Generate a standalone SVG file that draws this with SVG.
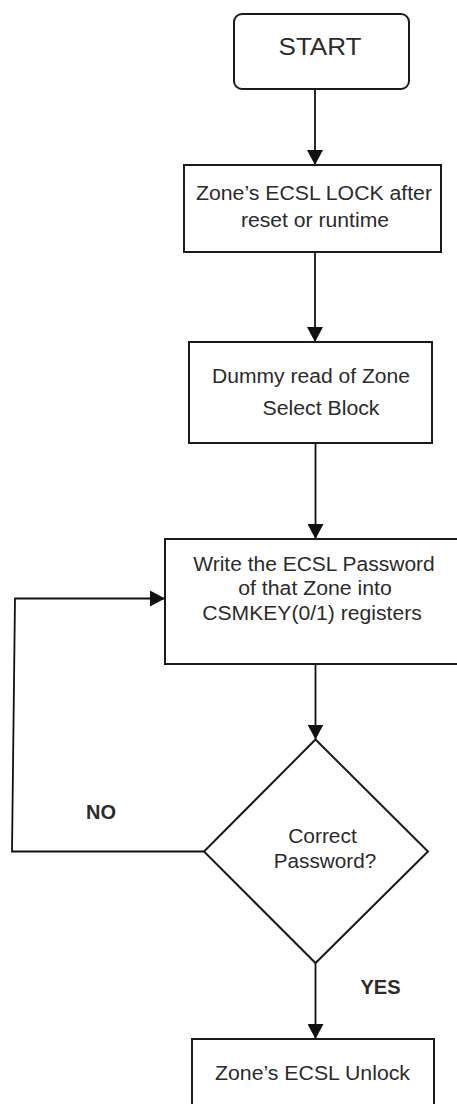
<svg xmlns="http://www.w3.org/2000/svg" width="457" height="1104" viewBox="0 0 457 1104">
<style>
.box{fill:#fff;stroke:#1a1a1a;stroke-width:2}
.t{font-family:"Liberation Sans",Arial,sans-serif;font-size:20px;fill:#2b2b2b;text-anchor:middle}
.b{font-family:"Liberation Sans",Arial,sans-serif;font-size:20px;font-weight:bold;fill:#2b2b2b;text-anchor:middle}
.c{fill:none;stroke:#111;stroke-width:1.8}
</style>
<defs>
<marker id="ah" markerUnits="userSpaceOnUse" markerWidth="16" markerHeight="16" viewBox="0 0 16 16" refX="15" refY="8" orient="auto">
<path d="M0,0 L15,8 L0,16 z" fill="#111"/>
</marker>
</defs>
<rect width="457" height="1104" fill="#fff"/>
<g id="connectors">
<line class="c" x1="315" y1="89" x2="315" y2="165" marker-end="url(#ah)"/>
<line class="c" x1="315" y1="252" x2="315" y2="342" marker-end="url(#ah)"/>
<line class="c" x1="315.5" y1="443" x2="315.5" y2="539" marker-end="url(#ah)"/>
<line class="c" x1="315.5" y1="664" x2="315.5" y2="739.5" marker-end="url(#ah)"/>
<line class="c" x1="315.5" y1="963" x2="315.5" y2="1039" marker-end="url(#ah)"/>
<polyline class="c" points="204,851.5 12,851.5 15,598.5 165,598.5" marker-end="url(#ah)"/>
</g>
<g id="start">
<rect class="box" x="234" y="14" width="175" height="75" rx="8"/>
<text class="t" x="320" y="55" style="font-size:24px" textLength="83" lengthAdjust="spacingAndGlyphs">START</text>
</g>
<g id="lock">
<rect class="box" x="184" y="165" width="257" height="87"/>
<text class="t" x="314" y="200" textLength="236" lengthAdjust="spacingAndGlyphs">Zone’s ECSL LOCK after</text>
<text class="t" x="315" y="226.5" textLength="148" lengthAdjust="spacingAndGlyphs">reset or runtime</text>
</g>
<g id="dummy">
<rect class="box" x="189" y="342" width="243" height="101"/>
<text class="t" x="311" y="383" textLength="198" lengthAdjust="spacingAndGlyphs">Dummy read of Zone</text>
<text class="t" x="321" y="415" textLength="117" lengthAdjust="spacingAndGlyphs">Select Block</text>
</g>
<g id="write">
<rect class="box" x="165" y="539" width="310" height="125"/>
<text class="t" x="314" y="570.5" textLength="241.5" lengthAdjust="spacingAndGlyphs">Write the ECSL Password</text>
<text class="t" x="315" y="595" textLength="153.5" lengthAdjust="spacingAndGlyphs">of that Zone into</text>
<text class="t" x="312" y="619.5" textLength="219.5" lengthAdjust="spacingAndGlyphs">CSMKEY(0/1) registers</text>
</g>
<g id="decision">
<polygon class="box" points="315.5,739.5 428,851.5 315.5,963 204,851.5"/>
<text class="t" x="322.5" y="842.5" textLength="68.5" lengthAdjust="spacingAndGlyphs">Correct</text>
<text class="t" x="325" y="867.5" textLength="102.5" lengthAdjust="spacingAndGlyphs">Password?</text>
</g>
<g id="labels">
<text class="b" x="101" y="818.5">NO</text>
<text class="b" x="380.5" y="994">YES</text>
</g>
<g id="unlock">
<rect class="box" x="192" y="1039" width="242" height="80"/>
<text class="t" x="312.5" y="1080" textLength="195" lengthAdjust="spacingAndGlyphs">Zone’s ECSL Unlock</text>
</g>
</svg>
